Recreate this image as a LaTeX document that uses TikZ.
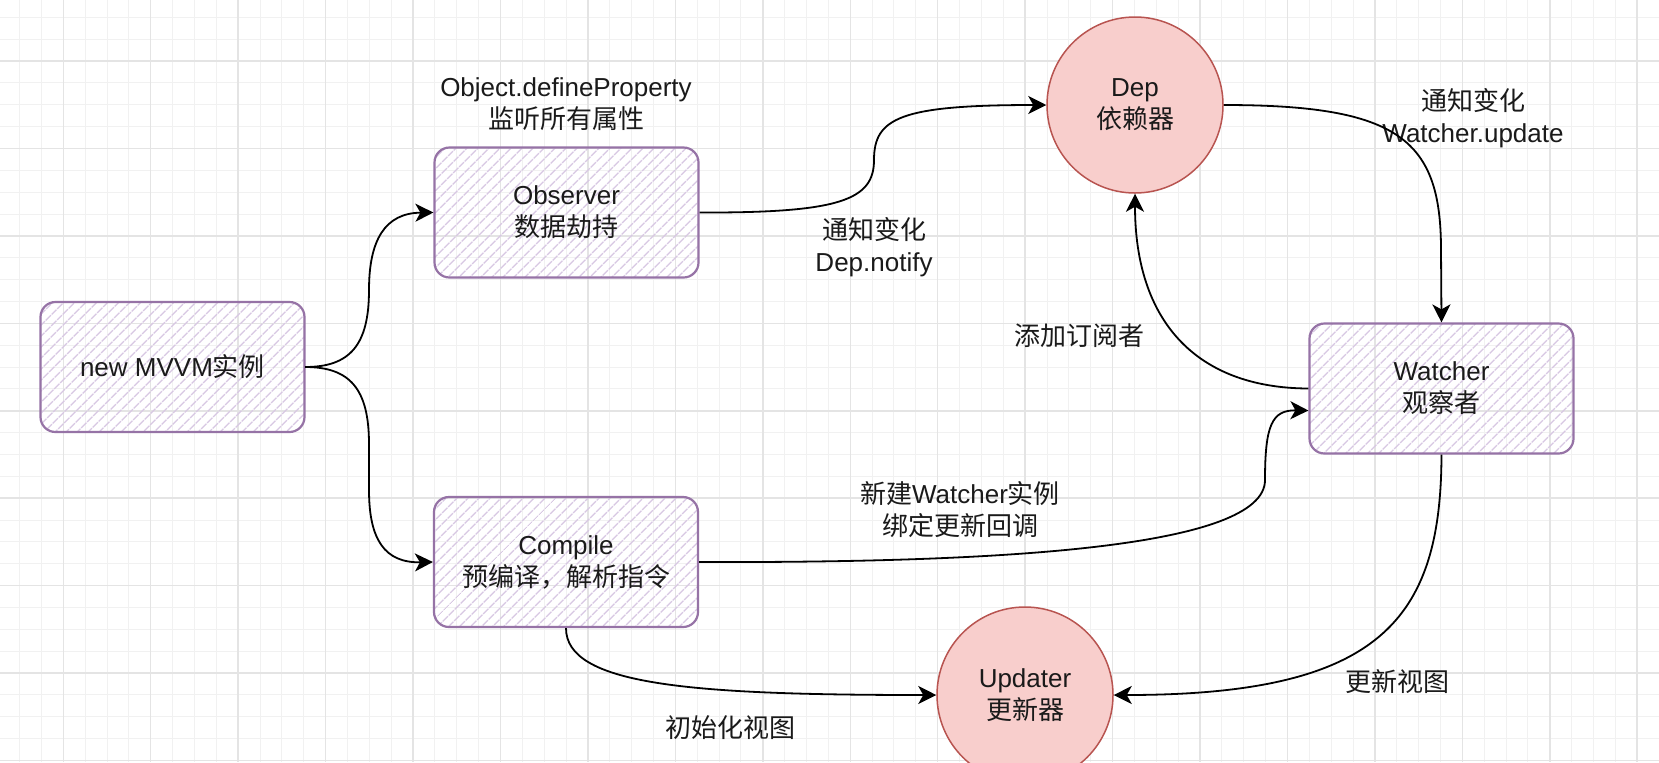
\documentclass[tikz,border=0pt]{standalone}
\usepackage{fontspec}
\setmainfont{Liberation Sans}
\newfontfamily\cjk{Noto Sans CJK SC}
\usetikzlibrary{arrows.meta,patterns.meta}
\definecolor{boxline}{HTML}{9673A6}
\definecolor{hatch}{HTML}{D8C8E3}
\definecolor{circfill}{HTML}{F8CECC}
\definecolor{circline}{HTML}{B85450}
\definecolor{cgridminor}{HTML}{F1F1F1}
\definecolor{cgridmajor}{HTML}{E4E4E4}
\definecolor{txt}{HTML}{1A1A1A}
\begin{document}
\begin{tikzpicture}[x=0.5pt,y=-0.5pt,
  every node/.style={font=\fontsize{13pt}{16pt}\selectfont, text=txt, align=center},
  hbox/.style={rectangle, rounded corners=7.5pt, minimum width=132pt, minimum height=65pt,
    draw=boxline, line width=1.1pt,
    pattern={Lines[angle=45,distance=4pt,line width=0.7pt]}, pattern color=hatch},
  circ/.style={circle, minimum size=88pt, inner sep=0pt, fill=circfill, draw=circline, line width=0.75pt},
  conn/.style={draw=black, line width=0.9pt, -{Stealth[length=9pt,width=9pt,inset=2.5pt]}},
  lbl/.style={inner sep=0pt},
  gminor/.style={draw=cgridminor, line width=0.5pt},
  gmajor/.style={draw=cgridmajor, line width=0.75pt}]
\useasboundingbox (0,0) rectangle (1659,762);
\clip (0,0) rectangle (1659,762);
\fill[white] (0,0) rectangle (1659,762);
% grid
\foreach \k in {0,...,75} { \draw[gminor] ({19.58+\k*21.86},0) -- ({19.58+\k*21.86},762); }
\foreach \k in {0,...,35} { \draw[gminor] (0,{17.28+\k*21.86}) -- (1659,{17.28+\k*21.86}); }
\foreach \k in {0,...,18} { \draw[gmajor] ({63.3+\k*87.44},0) -- ({63.3+\k*87.44},762); }
\foreach \k in {0,...,8} { \draw[gmajor] (0,{61+\k*87.44}) -- (1659,{61+\k*87.44}); }

% nodes
\node[hbox] (mvvm) at (172.5,367) {new MVVM{\cjk 实例}};
\node[hbox] (obs) at (566.5,212.5) {Observer\\\cjk 数据劫持};
\node[hbox] (comp) at (566,562) {Compile\\\cjk 预编译，解析指令};
\node[hbox] (watch) at (1441.5,388.5) {Watcher\\\cjk 观察者};
\node[circ] (dep) at (1135,105) {Dep\\\cjk 依赖器};
\node[circ] (upd) at (1025,695) {Updater\\\cjk 更新器};

% labels
\node[lbl] (l1) at (566,104.5) {Object.defineProperty\\\cjk 监听所有属性};
\node[lbl] (l2) at (874,247) {{\cjk 通知变化}\\Dep.notify};
\node[lbl] (l3) at (1473,118.5) {{\cjk 通知变化}\\Watcher.update};
\node[lbl] (l4) at (1079,336) {\cjk 添加订阅者};
\node[lbl] (l5) at (960,509.5) {{\cjk 新建}Watcher{\cjk 实例}\\\cjk 绑定更新回调};
\node[lbl] (l6) at (730,728) {\cjk 初始化视图};
\node[lbl] (l7) at (1397,682) {\cjk 更新视图};

% connectors
\draw[conn] (mvvm.east) .. controls (350,367) and (369,345) .. (369,290)
  .. controls (369,240) and (385,213) .. (obs.west);
\draw[conn] (mvvm.east) .. controls (350,367) and (369,389) .. (369,444) -- (369,490)
  .. controls (369,540) and (385,563) .. (comp.west);
\draw[conn] (obs.east) .. controls (840,213) and (874,200) .. (874,160)
  .. controls (874,118) and (900,105) .. (dep.west);
\draw[conn] (dep.east) .. controls (1400,105) and (1441,140) .. (1441,250) -- (watch.north);
\draw[conn] (watch.west) .. controls (1195,388) and (1135,320) .. (dep.south);
\draw[conn] (comp.east) .. controls (1000,563) and (1265,548) .. (1265,480)
  .. controls (1265,425) and (1272,410) .. ([yshift=-11pt]watch.west);
\draw[conn] (comp.south) .. controls (566,685) and (690,695) .. (upd.west);
\draw[conn] (watch.south) .. controls (1441,620) and (1380,695) .. (upd.east);
\end{tikzpicture}
\end{document}
